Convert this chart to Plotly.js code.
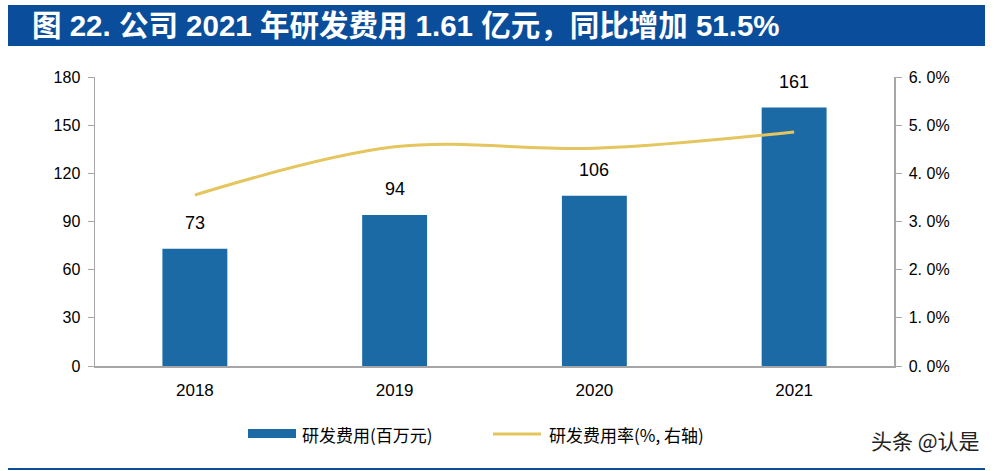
<!DOCTYPE html>
<html>
<head>
<meta charset="utf-8">
<script src="https://cdn.plot.ly/plotly-3.0.1.min.js"></script>
<style>html,body{margin:0;padding:0;background:#fff;}#chart{width:995px;height:471px;}</style>
</head>
<body>
<div id="chart"></div>
<script>
// ---- data ----
const years = ["2018", "2019", "2020", "2021"];
const rdExpense = [73, 94, 106, 161];          // 研发费用(百万元)
const rdRatio = [3.55, 4.55, 4.52, 4.86];       // 研发费用率(%)
const leftTicks = [0, 30, 60, 90, 120, 150, 180];
const rightTickVals = [0, 1, 2, 3, 4, 5, 6];
const rightTickText = ["0. 0%", "1. 0%", "2. 0%", "3. 0%", "4. 0%", "5. 0%", "6. 0%"];
const titleText = "图 22. 公司 2021 年研发费用 1.61 亿元，同比增加 51.5%";
const barName = "研发费用(百万元)";
const lineName = "研发费用率(%, 右轴)";
const watermark = "头条 @认是";

// ---- layout helpers (pixel -> paper) ----
const W = 995, H = 471;
const L = 95, R = 894, T = 77, B = 366;
const px = x => (x - L) / (R - L);
const py = y => (B - y) / (B - T);

const barColor = "#1B6AA5";
const lineColor = "#E5C55E";
const axisColor = "#A6A6A6";
const cjk = "'Noto Sans CJK SC', 'Noto Sans', sans-serif";
const latin = "'Liberation Sans', Arial, 'Noto Sans CJK SC', sans-serif";

const traces = [
  {
    type: "bar", x: years, y: rdExpense, name: barName,
    marker: {color: barColor}, width: 0.325, showlegend: false, hoverinfo: "skip"
  },
  {
    type: "scatter", mode: "lines", x: years, y: rdRatio, yaxis: "y2", name: lineName,
    line: {color: lineColor, width: 3, shape: "spline", smoothing: 1}, showlegend: false, hoverinfo: "skip"
  }
];

const annotations = years.map((yr, i) => ({
  x: i, y: rdExpense[i], xref: "x", yref: "y", text: String(rdExpense[i]),
  showarrow: false, yshift: 26, font: {family: latin, size: 18, color: "#000"}
}));

annotations.push(
  {xref: "paper", yref: "paper", x: px(30), y: py(26), xanchor: "left", yanchor: "middle",
   text: "<b>" + titleText + "</b>", showarrow: false,
   font: {family: latin, size: 29.5, color: "#fff"}},
  {xref: "paper", yref: "paper", x: px(300), y: py(434), xanchor: "left", yanchor: "middle",
   text: barName, showarrow: false, font: {family: cjk, size: 17, color: "#000"}},
  {xref: "paper", yref: "paper", x: px(547), y: py(434), xanchor: "left", yanchor: "middle",
   text: lineName, showarrow: false, font: {family: cjk, size: 17, color: "#000"}},
  {xref: "paper", yref: "paper", x: px(982), y: py(440), xanchor: "right", yanchor: "middle",
   text: watermark, showarrow: false, font: {family: cjk, size: 21, color: "#222"}}
);

const shapes = [
  {type: "rect", xref: "paper", yref: "paper", x0: px(8), x1: px(985), y0: py(46), y1: py(5),
   fillcolor: "#0A4E9B", line: {width: 0}, layer: "below"},
  {type: "rect", xref: "paper", yref: "paper", x0: px(248), x1: px(296), y0: py(438), y1: py(429),
   fillcolor: barColor, line: {width: 0}},
  {type: "line", xref: "paper", yref: "paper", x0: px(493), x1: px(541), y0: py(434), y1: py(434),
   line: {color: lineColor, width: 3}},
  {type: "line", xref: "paper", yref: "paper", x0: px(8), x1: px(985), y0: py(469), y1: py(469),
   line: {color: "#0A4E9B", width: 2}}
];

const layout = {
  width: W, height: H,
  margin: {l: L, r: W - R, t: T, b: H - B, pad: 0},
  paper_bgcolor: "#fff", plot_bgcolor: "#fff",
  showlegend: false,
  xaxis: {
    type: "category", range: [-0.5, years.length - 0.5], showgrid: false, zeroline: false, showline: true,
    linecolor: axisColor, linewidth: 1.5, ticks: "", ticklabelstandoff: 8,
    tickfont: {family: latin, size: 17, color: "#000"}, fixedrange: true
  },
  yaxis: {
    range: [0, 180], tickvals: leftTicks, showgrid: false, zeroline: false,
    showline: true, linecolor: axisColor, linewidth: 1.5, ticks: "outside", ticklen: 6,
    tickcolor: axisColor, tickfont: {family: latin, size: 16, color: "#000"},
    ticklabelstandoff: 4
  },
  yaxis2: {
    range: [0, 6], overlaying: "y", side: "right", tickvals: rightTickVals, ticktext: rightTickText,
    showgrid: false, zeroline: false, showline: true, linecolor: axisColor, linewidth: 1.5,
    ticks: "outside", ticklen: 6, tickcolor: axisColor,
    tickfont: {family: latin, size: 16, color: "#000"}, ticklabelstandoff: 4
  },
  annotations: annotations,
  shapes: shapes
};

Plotly.newPlot("chart", traces, layout, {staticPlot: true, displayModeBar: false});
</script>
</body>
</html>
